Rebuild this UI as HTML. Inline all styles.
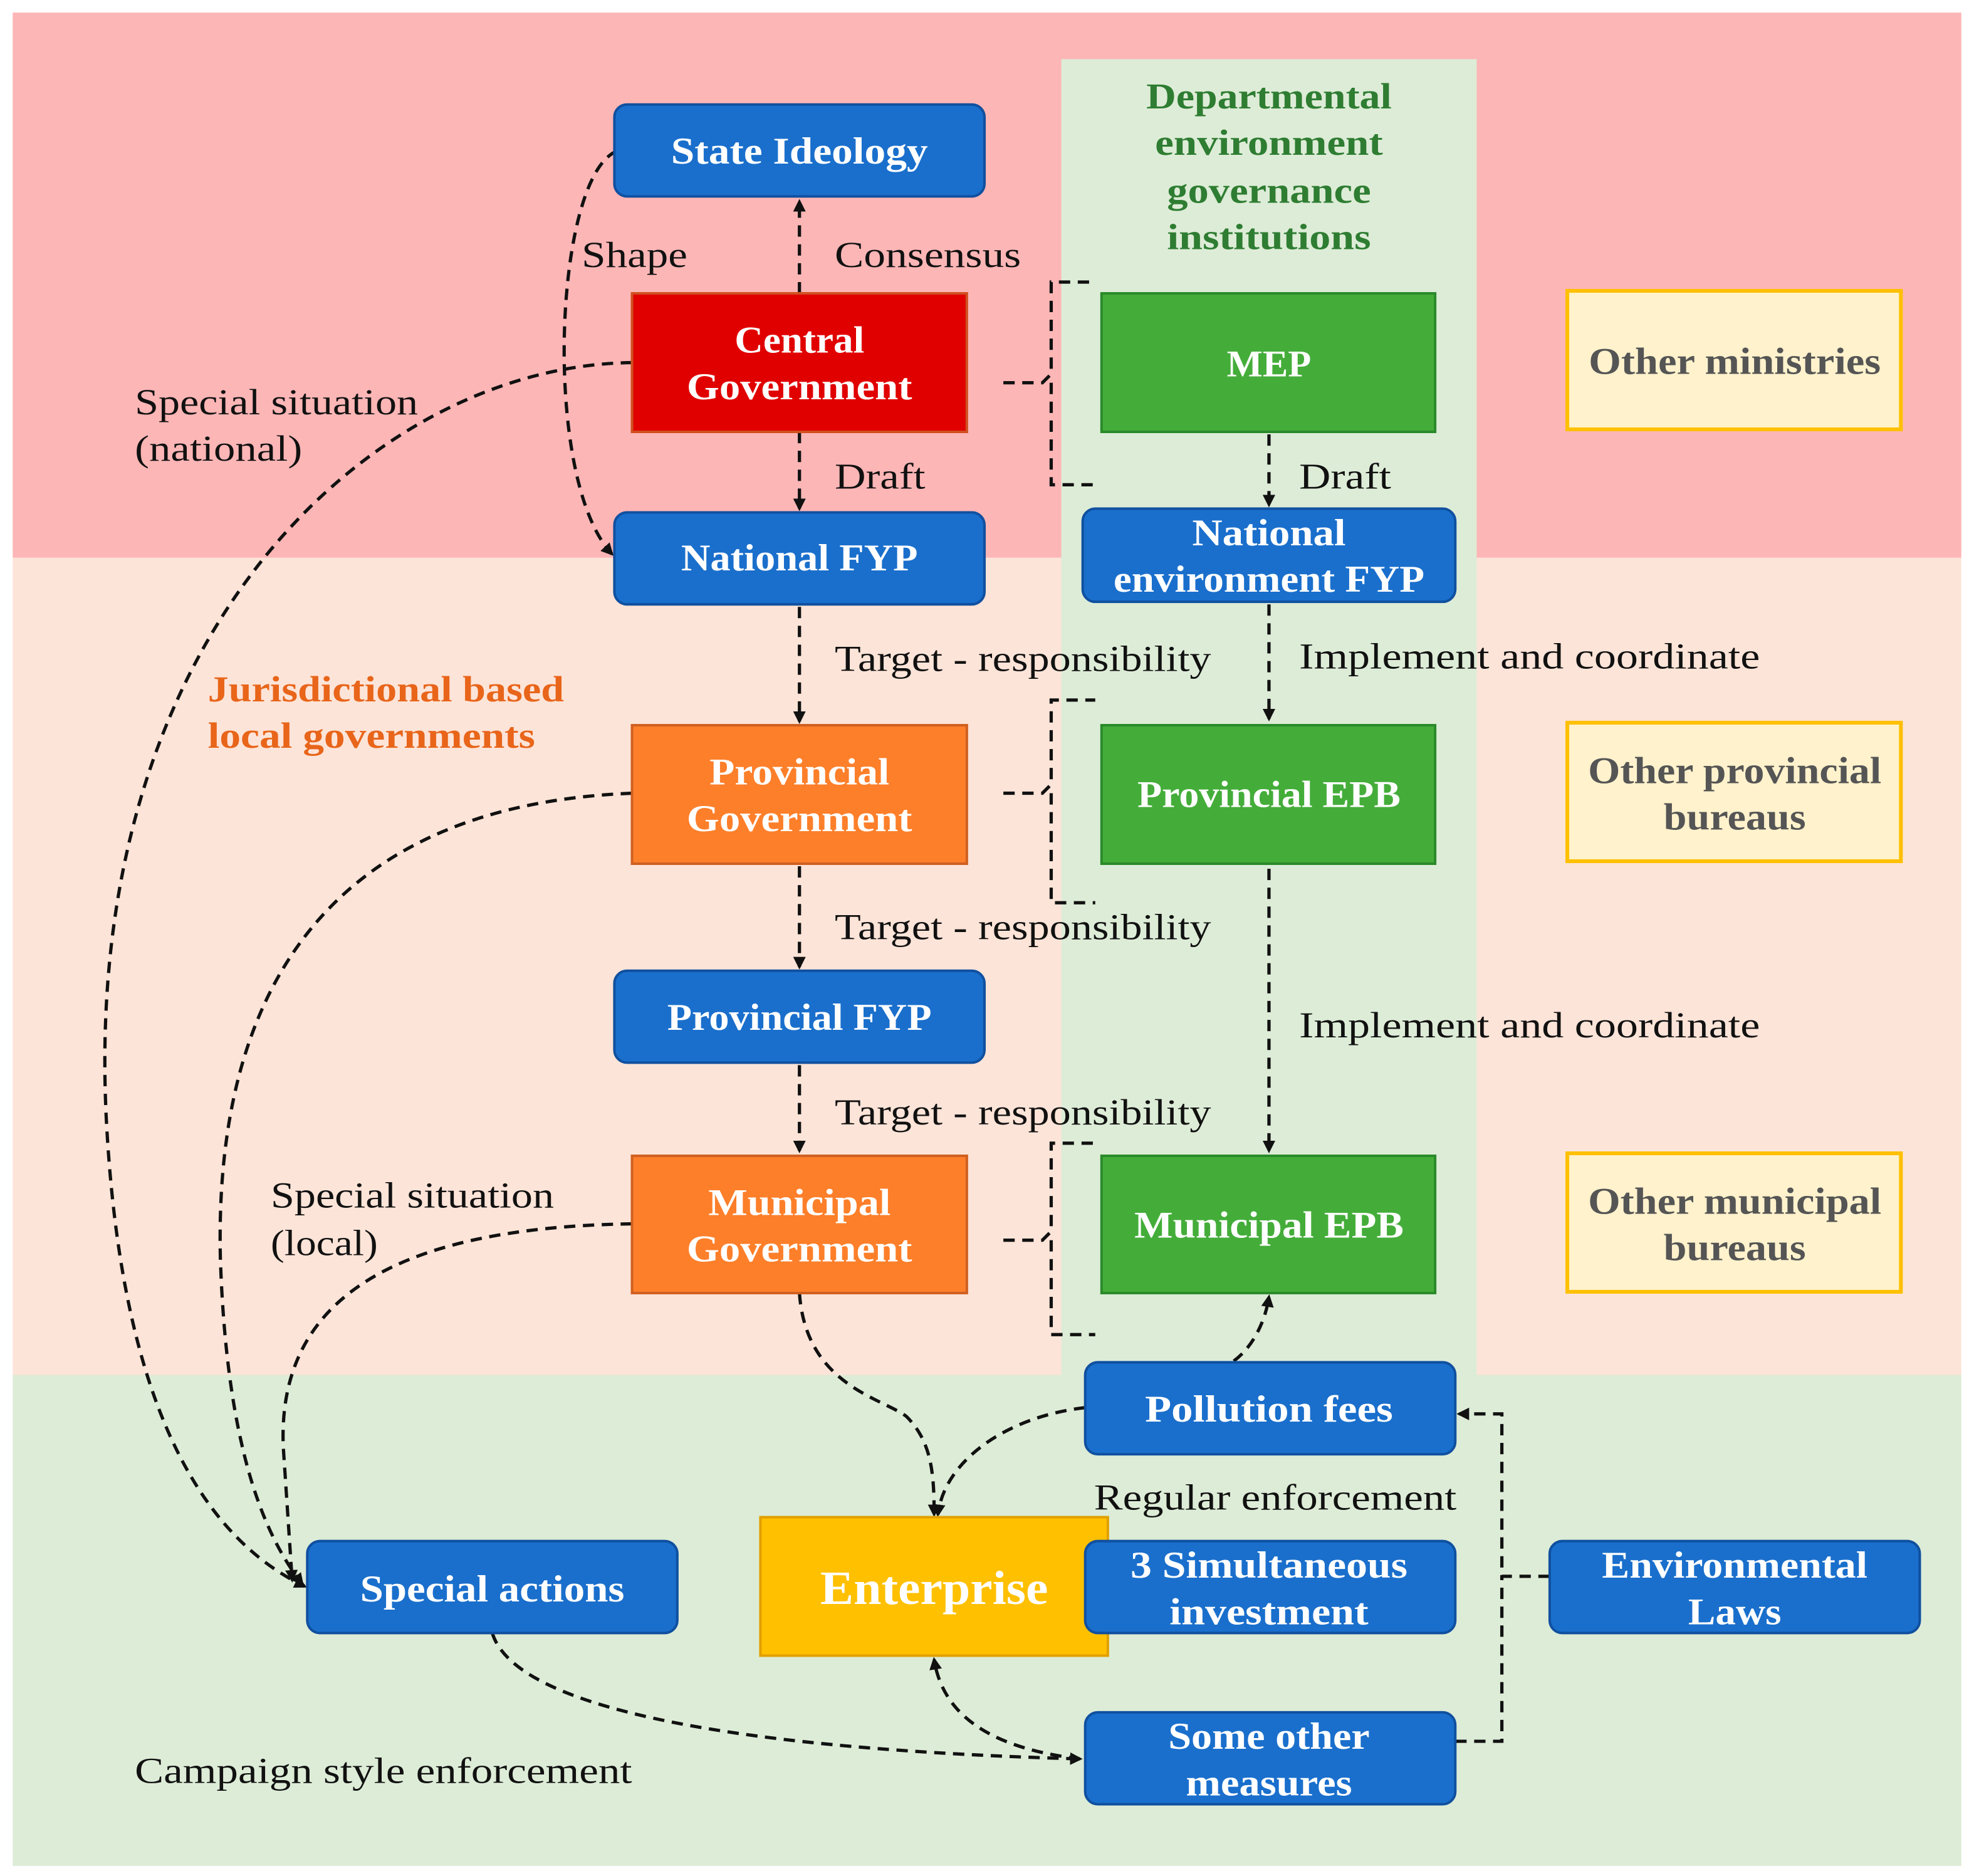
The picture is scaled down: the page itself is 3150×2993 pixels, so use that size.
<!DOCTYPE html>
<html><head><meta charset="utf-8"><style>
html,body{margin:0;padding:0;background:#fff;}
svg{display:block;}
text{font-family:"Liberation Serif",serif;}
.n{fill:#fff;font-weight:bold;font-size:30px;text-anchor:middle;}
.l{fill:#111;font-size:29px;}
.d{fill:none;stroke:#111;stroke-width:2.6;stroke-dasharray:9,6;}
</style></head><body>
<svg width="3150" height="2993" viewBox="0 0 1568 1490" xmlns="http://www.w3.org/2000/svg">
<defs><marker id="a" markerWidth="10" markerHeight="10" refX="8" refY="5" orient="auto" markerUnits="userSpaceOnUse"><path d="M0,0 L10,5 L0,10 z" fill="#111"/></marker></defs>
<rect x="0" y="0" width="1568" height="1490" fill="#fff"/>
<rect x="10" y="10" width="1548" height="433" fill="#fdb6b6"/>
<rect x="10" y="443" width="1548" height="649" fill="#fde4d8"/>
<rect x="10" y="1092" width="1548" height="390" fill="#ddecd7"/>
<rect x="843" y="47" width="330" height="1045" fill="#ddecd7"/>

<g class="d">
<path d="M635,233 L635,160" marker-end="url(#a)"/>
<path d="M635,343 L635,404" marker-end="url(#a)"/>
<path d="M635,482 L635,573" marker-end="url(#a)"/>
<path d="M635,688 L635,768" marker-end="url(#a)"/>
<path d="M635,846 L635,914" marker-end="url(#a)"/>
<path d="M1008,345 L1008,401" marker-end="url(#a)"/>
<path d="M1008,480 L1008,571" marker-end="url(#a)"/>
<path d="M1008,690 L1008,914" marker-end="url(#a)"/>
<path d="M797,304 L828,304 L835,297 L835,224 L870,224 M835,304 L835,385 L870,385"/>
<path d="M797,630 L828,630 L835,623 L835,556 L870,556 M835,630 L835,717 L870,717"/>
<path d="M797,985 L828,985 L835,978 L835,908 L870,908 M835,985 L835,1060 L870,1060"/>
<path d="M490,120 C440,140 430,380 486,440" marker-end="url(#a)"/>
<path d="M502,288 C300,290 60,500 85,900 C100,1150 180,1230 242,1260" marker-end="url(#a)"/>
<path d="M502,630 C250,640 170,800 175,1000 C180,1150 210,1220 240,1258" marker-end="url(#a)"/>
<path d="M502,972 C300,975 220,1040 225,1150 L232,1255" marker-end="url(#a)"/>
<path d="M635,1027 C640,1100 700,1110 720,1125 C740,1145 742,1170 742,1203" marker-end="url(#a)"/>
<path d="M862,1118 C800,1125 750,1160 745,1203" marker-end="url(#a)"/>
<path d="M980,1081 C995,1070 1005,1050 1008,1030" marker-end="url(#a)"/>
<path d="M391,1297 C410,1360 600,1390 858,1397" marker-end="url(#a)"/>
<path d="M858,1397 C800,1390 750,1370 742,1318" marker-end="url(#a)"/>
<path d="M1231,1252 L1193,1252 L1193,1123 L1159,1123" marker-end="url(#a)"/>
<path d="M1156,1383 L1193,1383 L1193,1252"/>
</g>

<g stroke-width="2">
<rect x="488" y="83" width="294" height="73" rx="10" fill="#1a6fcc" stroke="#1050a0"/>
<rect x="502" y="233" width="266" height="110" fill="#e00000" stroke="#d05020"/>
<rect x="875" y="233" width="265" height="110" fill="#44ad3a" stroke="#2a8a2a"/>
<rect x="1245" y="231" width="265" height="110" fill="#fff2cc" stroke="#ffc000" stroke-width="3"/>
<rect x="488" y="407" width="294" height="73" rx="10" fill="#1a6fcc" stroke="#1050a0"/>
<rect x="860" y="404" width="296" height="74" rx="10" fill="#1a6fcc" stroke="#1050a0"/>
<rect x="502" y="576" width="266" height="110" fill="#fd7f2a" stroke="#d06020"/>
<rect x="875" y="576" width="265" height="110" fill="#44ad3a" stroke="#2a8a2a"/>
<rect x="1245" y="574" width="265" height="110" fill="#fff2cc" stroke="#ffc000" stroke-width="3"/>
<rect x="488" y="771" width="294" height="73" rx="10" fill="#1a6fcc" stroke="#1050a0"/>
<rect x="502" y="918" width="266" height="109" fill="#fd7f2a" stroke="#d06020"/>
<rect x="875" y="918" width="265" height="109" fill="#44ad3a" stroke="#2a8a2a"/>
<rect x="1245" y="916" width="265" height="110" fill="#fff2cc" stroke="#ffc000" stroke-width="3"/>
<rect x="862" y="1082" width="294" height="73" rx="10" fill="#1a6fcc" stroke="#1050a0"/>
<rect x="604" y="1205" width="276" height="110" fill="#ffc000" stroke="#e0a000"/>
<rect x="862" y="1224" width="294" height="73" rx="10" fill="#1a6fcc" stroke="#1050a0"/>
<rect x="1231" y="1224" width="294" height="73" rx="10" fill="#1a6fcc" stroke="#1050a0"/>
<rect x="244" y="1224" width="294" height="73" rx="10" fill="#1a6fcc" stroke="#1050a0"/>
<rect x="862" y="1360" width="294" height="73" rx="10" fill="#1a6fcc" stroke="#1050a0"/>
</g>

<g lengthAdjust="spacingAndGlyphs">
<text class="n" x="635" y="130" textLength="204" lengthAdjust="spacingAndGlyphs">State Ideology</text>
<text class="n" x="635" y="280" textLength="103" lengthAdjust="spacingAndGlyphs">Central</text><text class="n" x="635" y="317" textLength="179" lengthAdjust="spacingAndGlyphs">Government</text>
<text class="n" x="1008" y="299" textLength="67" lengthAdjust="spacingAndGlyphs">MEP</text>
<text class="n" x="1378" y="297" style="fill:#555" textLength="232" lengthAdjust="spacingAndGlyphs">Other ministries</text>
<text class="n" x="635" y="453" textLength="188" lengthAdjust="spacingAndGlyphs">National FYP</text>
<text class="n" x="1008" y="433" textLength="122" lengthAdjust="spacingAndGlyphs">National</text><text class="n" x="1008" y="470" textLength="247" lengthAdjust="spacingAndGlyphs">environment FYP</text>
<text class="n" x="635" y="623" textLength="143" lengthAdjust="spacingAndGlyphs">Provincial</text><text class="n" x="635" y="660" textLength="179" lengthAdjust="spacingAndGlyphs">Government</text>
<text class="n" x="1008" y="641" textLength="209" lengthAdjust="spacingAndGlyphs">Provincial EPB</text>
<text class="n" x="1378" y="622" style="fill:#555" textLength="233" lengthAdjust="spacingAndGlyphs">Other provincial</text><text class="n" x="1378" y="659" style="fill:#555" textLength="113" lengthAdjust="spacingAndGlyphs">bureaus</text>
<text class="n" x="635" y="818" textLength="210" lengthAdjust="spacingAndGlyphs">Provincial FYP</text>
<text class="n" x="635" y="965" textLength="145" lengthAdjust="spacingAndGlyphs">Municipal</text><text class="n" x="635" y="1002" textLength="179" lengthAdjust="spacingAndGlyphs">Government</text>
<text class="n" x="1008" y="983" textLength="214" lengthAdjust="spacingAndGlyphs">Municipal EPB</text>
<text class="n" x="1378" y="964" style="fill:#555" textLength="233" lengthAdjust="spacingAndGlyphs">Other municipal</text><text class="n" x="1378" y="1001" style="fill:#555" textLength="113" lengthAdjust="spacingAndGlyphs">bureaus</text>
<text class="n" x="1008" y="1129" textLength="197" lengthAdjust="spacingAndGlyphs">Pollution fees</text>
<text class="n" x="742" y="1274" style="font-size:38px" textLength="181" lengthAdjust="spacingAndGlyphs">Enterprise</text>
<text class="n" x="1008" y="1253" textLength="220" lengthAdjust="spacingAndGlyphs">3 Simultaneous</text><text class="n" x="1008" y="1290" textLength="158" lengthAdjust="spacingAndGlyphs">investment</text>
<text class="n" x="1378" y="1253" textLength="211" lengthAdjust="spacingAndGlyphs">Environmental</text><text class="n" x="1378" y="1290" textLength="74" lengthAdjust="spacingAndGlyphs">Laws</text>
<text class="n" x="391" y="1272" textLength="210" lengthAdjust="spacingAndGlyphs">Special actions</text>
<text class="n" x="1008" y="1389" textLength="160" lengthAdjust="spacingAndGlyphs">Some other</text><text class="n" x="1008" y="1426" textLength="132" lengthAdjust="spacingAndGlyphs">measures</text>
</g>

<g style="font-weight:bold;font-size:29px;fill:#2e7d32;text-anchor:middle">
<text x="1008" y="86" textLength="195" lengthAdjust="spacingAndGlyphs">Departmental</text>
<text x="1008" y="123" textLength="181" lengthAdjust="spacingAndGlyphs">environment</text>
<text x="1008" y="161" textLength="162" lengthAdjust="spacingAndGlyphs">governance</text>
<text x="1008" y="198" textLength="162" lengthAdjust="spacingAndGlyphs">institutions</text>
</g>
<text x="165" y="557" style="font-weight:bold;font-size:29px;fill:#e8651a" textLength="283" lengthAdjust="spacingAndGlyphs">Jurisdictional based</text>
<text x="165" y="594" style="font-weight:bold;font-size:29px;fill:#e8651a" textLength="260" lengthAdjust="spacingAndGlyphs">local governments</text>

<text class="l" x="462" y="212" textLength="84" lengthAdjust="spacingAndGlyphs">Shape</text>
<text class="l" x="663" y="212" textLength="148" lengthAdjust="spacingAndGlyphs">Consensus</text>
<text class="l" x="107" y="329" textLength="225" lengthAdjust="spacingAndGlyphs">Special situation</text>
<text class="l" x="107" y="366" textLength="133" lengthAdjust="spacingAndGlyphs">(national)</text>
<text class="l" x="663" y="388" textLength="72" lengthAdjust="spacingAndGlyphs">Draft</text>
<text class="l" x="1032" y="388" textLength="73" lengthAdjust="spacingAndGlyphs">Draft</text>
<text class="l" x="663" y="533" textLength="299" lengthAdjust="spacingAndGlyphs">Target - responsibility</text>
<text class="l" x="1032" y="531" textLength="366" lengthAdjust="spacingAndGlyphs">Implement and coordinate</text>
<text class="l" x="663" y="746" textLength="299" lengthAdjust="spacingAndGlyphs">Target - responsibility</text>
<text class="l" x="1032" y="824" textLength="366" lengthAdjust="spacingAndGlyphs">Implement and coordinate</text>
<text class="l" x="663" y="893" textLength="299" lengthAdjust="spacingAndGlyphs">Target - responsibility</text>
<text class="l" x="215" y="959" textLength="225" lengthAdjust="spacingAndGlyphs">Special situation</text>
<text class="l" x="215" y="997" textLength="85" lengthAdjust="spacingAndGlyphs">(local)</text>
<text class="l" x="869" y="1199" textLength="288" lengthAdjust="spacingAndGlyphs">Regular enforcement</text>
<text class="l" x="107" y="1416" textLength="395" lengthAdjust="spacingAndGlyphs">Campaign style enforcement</text>
</svg>
</body></html>
